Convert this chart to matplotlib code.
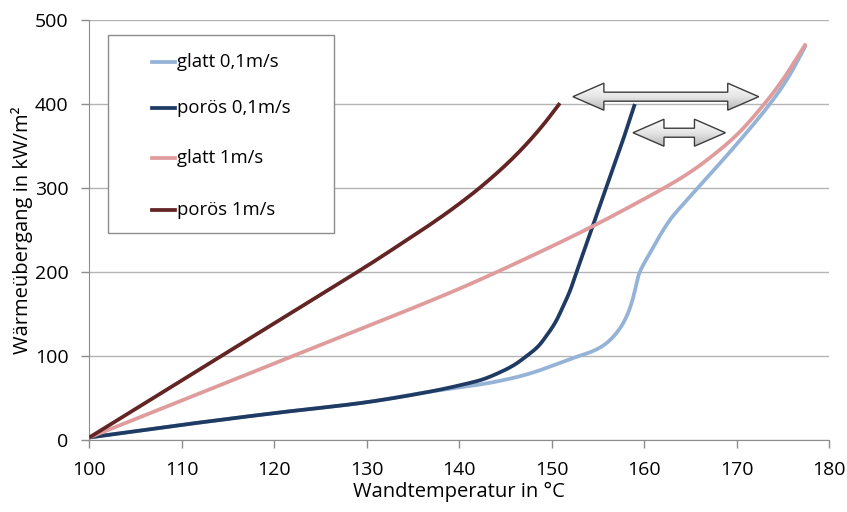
import numpy as np
import matplotlib
matplotlib.use("Agg")
import matplotlib.pyplot as plt
from matplotlib.patches import Polygon, Rectangle
from matplotlib.lines import Line2D
from matplotlib.colors import LinearSegmentedColormap

plt.rcParams['font.family'] = ['Open Sans', 'DejaVu Sans']

# Wall temperature (°C) and heat flux (kW/m²) per series
t_glatt_01 = [100, 110, 120, 130, 136.8, 140.4, 144, 147.6, 151.2, 152.7, 154.5, 155.9, 157.2, 158.1, 158.7, 159.2, 159.5, 160.6, 162.8, 164.5, 166.7, 170, 173.6, 175.5, 177.5]
q_glatt_01 = [3, 18, 32, 45, 57.5, 63, 69.5, 79, 93, 99, 106, 115, 130, 147, 165, 187, 199, 222, 262, 284, 311, 352, 400, 430, 470]

t_poroes_01 = [100, 110, 120, 130, 136.8, 140.4, 142.5, 144.3, 145.9, 147.3, 148.5, 149.5, 150.4, 151.2, 152, 152.7, 154.3, 155.9, 157.5, 159]
q_poroes_01 = [3, 18, 32, 45, 57.5, 66, 72, 80, 89, 100, 111, 125, 140, 158, 178, 200, 250, 300, 350, 400]

t_glatt_1 = [100, 110, 120, 130, 140, 148, 154, 158, 162.8, 165, 167, 170, 173, 175, 177.5]
q_glatt_1 = [3, 47, 91, 135, 180, 220, 252, 275, 304, 319, 335, 363, 400, 429, 472]

t_poroes_1 = [100, 110, 120, 130, 133.5, 136.8, 139.5, 142.2, 145, 147, 149, 150.9]
q_poroes_1 = [3, 71, 139, 207, 232, 256, 277, 300, 327, 349, 374, 401]

series_labels = ["glatt 0,1m/s", "porös 0,1m/s", "glatt 1m/s", "porös 1m/s"]
series_colors = ["#95b3d7", "#1f3b63", "#e09c9c", "#632523"]

x_ticks = [100, 110, 120, 130, 140, 150, 160, 170, 180]
y_ticks = [0, 100, 200, 300, 400, 500]

# Double arrows marking the temperature shift (x start, x end, y)
arrow_spans = [(152.3, 172.4, 408.7), (158.8, 168.8, 365.8)]

W, H = 847, 512
fig = plt.figure(figsize=(W / 100, H / 100), dpi=100)
ax = fig.add_axes([89.3 / W, 1 - 440 / H, (829 - 89.3) / W, 420 / H])

series = [(t_glatt_01, q_glatt_01), (t_poroes_01, q_poroes_01),
          (t_glatt_1, q_glatt_1), (t_poroes_1, q_poroes_1)]


def smooth(t, q, n=30, sx=80.0, sy=500.0):
    """Centripetal Catmull-Rom curve through the points (scaled to unit box)."""
    P = np.column_stack([np.asarray(t, float) / sx, np.asarray(q, float) / sy])
    P = np.vstack([2 * P[0] - P[1], P, 2 * P[-1] - P[-2]])
    out = []
    for i in range(1, len(P) - 2):
        p0, p1, p2, p3 = P[i - 1], P[i], P[i + 1], P[i + 2]
        t0 = 0.0
        t1 = t0 + np.linalg.norm(p1 - p0) ** 0.5
        t2 = t1 + np.linalg.norm(p2 - p1) ** 0.5
        t3 = t2 + np.linalg.norm(p3 - p2) ** 0.5
        u = np.linspace(t1, t2, n, endpoint=False)[:, None]
        a1 = (t1 - u) / (t1 - t0) * p0 + (u - t0) / (t1 - t0) * p1
        a2 = (t2 - u) / (t2 - t1) * p1 + (u - t1) / (t2 - t1) * p2
        a3 = (t3 - u) / (t3 - t2) * p2 + (u - t2) / (t3 - t2) * p3
        b1 = (t2 - u) / (t2 - t0) * a1 + (u - t0) / (t2 - t0) * a2
        b2 = (t3 - u) / (t3 - t1) * a2 + (u - t1) / (t3 - t1) * a3
        c = (t2 - u) / (t2 - t1) * b1 + (u - t1) / (t2 - t1) * b2
        out.append(c)
    out.append(P[-2][None, :])
    C = np.vstack(out)
    return C[:, 0] * sx, C[:, 1] * sy


order = [2, 0, 1, 3]
for i in order:
    t, q = series[i]
    ts, qs = smooth(t, q)
    ax.plot(ts, qs, color=series_colors[i], lw=2.7, solid_capstyle='butt', zorder=3 + i)

ax.set_xlim(100, 180)
ax.set_ylim(0, 500)
ax.set_xticks(x_ticks)
ax.set_yticks(y_ticks)
ax.grid(axis='y', color='#b4b4b4', lw=1.0)
ax.set_axisbelow(True)
for s in ['top', 'right']:
    ax.spines[s].set_visible(False)
for s in ['left', 'bottom']:
    ax.spines[s].set_color('#8c8c8c')
ax.tick_params(colors='#8c8c8c', length=6, width=1, labelcolor='black', labelsize=14)
ax.tick_params(axis='x', pad=9)
ax.tick_params(axis='y', pad=9)
ax.set_xlabel("Wandtemperatur in °C", fontsize=14.5, labelpad=2)
ax.set_ylabel("Wärmeübergang in kW/m²", fontsize=14.5)
ax.yaxis.set_label_coords((33 - 89.3) / (829 - 89.3), 0.5)

# Double-headed block arrows with a vertical gray gradient
arrow_cmap = LinearSegmentedColormap.from_list("arrow", ["#fbfbfb", "#e6e6e6", "#b9b9b9"])
px_x = (180 - 100) / (829 - 89.3)   # data units per pixel in x
px_y = 500 / 420.0                  # data units per pixel in y
grad = np.linspace(0, 1, 64)[:, None] * np.ones((1, 2))
for x0, x1, y in arrow_spans:
    hl = 31 * px_x
    hh = 13.5 * px_y
    sh = 4.5 * px_y
    verts = [(x0, y), (x0 + hl, y + hh), (x0 + hl, y + sh), (x1 - hl, y + sh),
             (x1 - hl, y + hh), (x1, y), (x1 - hl, y - hh), (x1 - hl, y - sh),
             (x0 + hl, y - sh), (x0 + hl, y - hh)]
    poly = Polygon(verts, closed=True, facecolor='none', edgecolor='#3c3c3c',
                   lw=1.0, zorder=9)
    ax.add_patch(poly)
    im = ax.imshow(grad, cmap=arrow_cmap, vmin=0, vmax=1, origin='upper',
                   extent=(x0, x1, y - hh, y + hh), aspect='auto', zorder=8,
                   interpolation='bilinear')
    im.set_clip_path(poly)

ax.set_xlim(100, 180)
ax.set_ylim(0, 500)


# Legend box drawn in figure pixels
def fx(px):
    return px / W


def fy(py):
    return 1 - py / H


fig.patches.append(Rectangle((fx(107.5), fy(233)), fx(334) - fx(107.5), fy(35) - fy(233),
                             transform=fig.transFigure, facecolor='white',
                             edgecolor='#8c8c8c', lw=1.0, zorder=10))
entry_y = [62, 108, 158, 210]
for lab, col, ey in zip(series_labels, series_colors, entry_y):
    fig.add_artist(Line2D([fx(152), fx(175)], [fy(ey), fy(ey)], color=col, lw=2.7,
                          transform=fig.transFigure, zorder=11))
    fig.text(fx(176.5), fy(ey), lab, fontsize=13.3, va='center', ha='left', zorder=12)

fig.savefig("out.png", dpi=100)
